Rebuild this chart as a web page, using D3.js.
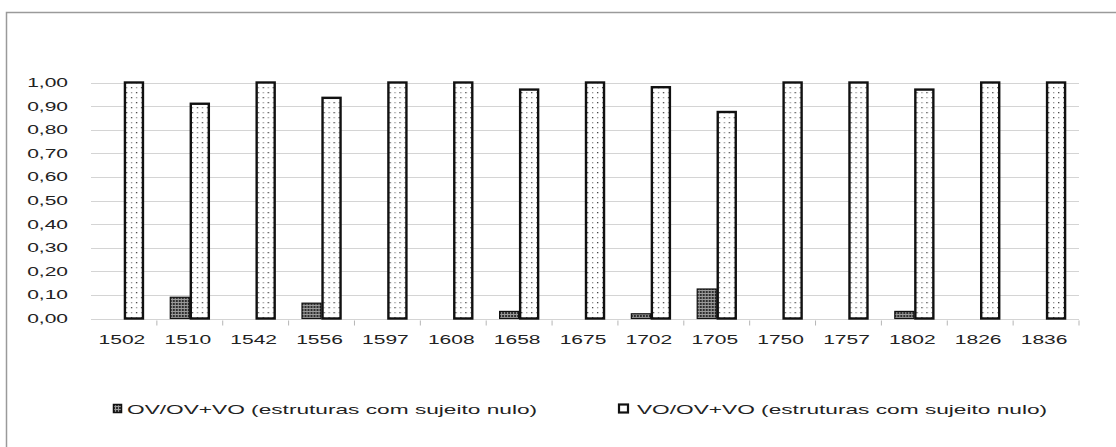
<!DOCTYPE html>
<html>
<head>
<meta charset="utf-8">
<script src="https://cdn.jsdelivr.net/npm/d3@7"></script>
<style>
  html, body { margin: 0; padding: 0; background: #fff; }
  svg { display: block; }
  text { font-family: "Liberation Sans", Arial, sans-serif; fill: #222; }
</style>
</head>
<body>
<svg></svg>
<script>
const years = ["1502", "1510", "1542", "1556", "1597", "1608", "1658", "1675",
               "1702", "1705", "1750", "1757", "1802", "1826", "1836"];
const ovShare = [0, 0.09, 0, 0.065, 0, 0, 0.03, 0, 0.02, 0.125, 0, 0, 0.03, 0, 0];
const voShare = [1, 0.91, 1, 0.935, 1, 1, 0.97, 1, 0.98, 0.875, 1, 1, 0.97, 1, 1];
const seriesNames = ["OV/OV+VO (estruturas com sujeito nulo)", "VO/OV+VO (estruturas com sujeito nulo)"];
const yTicks = [0, 0.1, 0.2, 0.3, 0.4, 0.5, 0.6, 0.7, 0.8, 0.9, 1];

const width = 1116, height = 447;
const plot = { left: 91, right: 1079, top: 82.5, bottom: 318.5 };
const sx = 1.68; // the source picture is stretched sideways

const svg = d3.select("svg")
    .attr("width", width)
    .attr("height", height);

// patterns
const defs = svg.append("defs");
const dots = defs.append("pattern")
    .attr("id", "dots")
    .attr("patternUnits", "userSpaceOnUse")
    .attr("width", 10).attr("height", 10);
dots.append("rect").attr("width", 10).attr("height", 10).attr("fill", "#fff");
dots.append("rect").attr("x", 2).attr("y", 2).attr("width", 1.3).attr("height", 1.3).attr("fill", "#444");
dots.append("rect").attr("x", 7).attr("y", 2).attr("width", 1.3).attr("height", 1.3).attr("fill", "#999");
dots.append("rect").attr("x", 2).attr("y", 7).attr("width", 1.3).attr("height", 1.3).attr("fill", "#999");
dots.append("rect").attr("x", 7).attr("y", 7).attr("width", 1.3).attr("height", 1.3).attr("fill", "#444");

const checks = defs.append("pattern")
    .attr("id", "checks")
    .attr("patternUnits", "userSpaceOnUse")
    .attr("width", 3).attr("height", 3);
checks.append("rect").attr("width", 3).attr("height", 3).attr("fill", "#9a9a9a");
checks.append("rect").attr("width", 2).attr("height", 2).attr("fill", "#2e2e2e");

// outer frame (runs past the right and bottom edges)
svg.append("rect")
    .attr("x", 6.5).attr("y", 12.5)
    .attr("width", 1200).attr("height", 500)
    .attr("fill", "none")
    .attr("stroke", "#9a9a9a")
    .attr("stroke-width", 1.5);

const x0 = d3.scaleBand()
    .domain(years)
    .range([plot.left, plot.right])
    .paddingInner(0.392)
    .paddingOuter(0.196);

const x1 = d3.scaleBand()
    .domain([0, 1])
    .range([0, x0.bandwidth()]);

const y = d3.scaleLinear()
    .domain([0, 1])
    .range([plot.bottom, plot.top]);

// gridlines
svg.append("g")
  .selectAll("line")
  .data(yTicks)
  .join("line")
    .attr("x1", plot.left).attr("x2", plot.right)
    .attr("y1", d => Math.round(y(d)) + 0.5)
    .attr("y2", d => Math.round(y(d)) + 0.5)
    .attr("stroke", "#d4d4d4");

// y labels
svg.append("g")
  .selectAll("text")
  .data(yTicks)
  .join("text")
    .attr("transform", d => `translate(68, ${y(d) + 4.5}) scale(${sx}, 1)`)
    .attr("text-anchor", "end")
    .attr("font-size", 12.5)
    .text(d => d3.format(".2f")(d).replace(".", ","));

// category tick marks
const step = x0.step();
svg.append("g")
  .selectAll("line")
  .data(years)
  .join("line")
    .attr("x1", d => x0(d) - x0.paddingOuter() * step + step)
    .attr("x2", d => x0(d) - x0.paddingOuter() * step + step)
    .attr("y1", plot.bottom + 2)
    .attr("y2", plot.bottom + 7)
    .attr("stroke", "#b5b5b5");

// x labels
svg.append("g")
  .selectAll("text")
  .data(years)
  .join("text")
    .attr("transform", d => `translate(${x0(d) + x0.bandwidth() / 2 - 2}, 344) scale(${sx}, 1)`)
    .attr("text-anchor", "middle")
    .attr("font-size", 12.5)
    .text(d => d);

// bars
const rows = years.map((yr, i) => ({ yr, vals: [ovShare[i], voShare[i]] }));
const groups = svg.append("g")
  .selectAll("g")
  .data(rows)
  .join("g")
    .attr("transform", d => `translate(${x0(d.yr)}, 0)`);

groups.selectAll("rect")
  .data(d => d.vals.map((v, k) => ({ k, v })).filter(e => e.v > 0))
  .join("rect")
    .attr("x", e => x1(e.k) + (e.k === 1 ? 1 : 0.5))
    .attr("y", e => y(e.v))
    .attr("width", e => x1.bandwidth() - (e.k === 1 ? 2 : 1))
    .attr("height", e => y(0) - y(e.v))
    .attr("fill", e => e.k === 0 ? "url(#checks)" : "url(#dots)")
    .attr("stroke", "#111")
    .attr("stroke-width", e => e.k === 0 ? 1.2 : 2.4);

// legend
const legendX = [113, 618];
const legend = svg.append("g")
  .selectAll("g")
  .data(seriesNames)
  .join("g")
    .attr("transform", (d, i) => `translate(${legendX[i]}, 404)`);

legend.append("rect")
    .attr("x", (d, i) => i === 0 ? 0.5 : 1)
    .attr("y", 0.5)
    .attr("width", (d, i) => i === 0 ? 8 : 9)
    .attr("height", 8)
    .attr("fill", (d, i) => i === 0 ? "url(#checks)" : "#fff")
    .attr("stroke", "#111")
    .attr("stroke-width", (d, i) => i === 0 ? 1.5 : 2.2);

legend.append("text")
    .attr("transform", (d, i) => `translate(${i === 0 ? 14 : 19}, 9.5) scale(${sx}, 1)`)
    .attr("font-size", 13.5)
    .text(d => d);
</script>
</body>
</html>
